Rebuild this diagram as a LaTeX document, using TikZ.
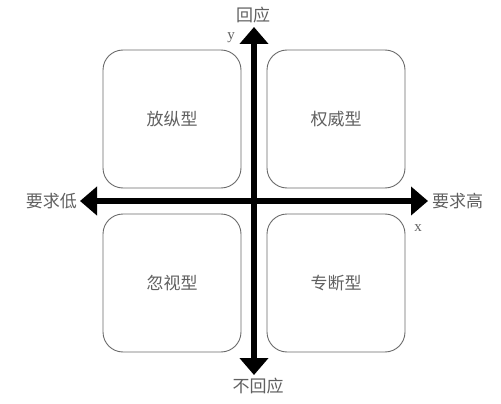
\documentclass[tikz,border=0pt]{standalone}
\usepackage{fontspec}
\newfontfamily\cjk{Noto Sans CJK SC}
\setmainfont{Liberation Serif}
\usetikzlibrary{arrows.meta}
\definecolor{txt}{HTML}{606060}
\definecolor{boxc}{HTML}{6a6a6a}
\begin{document}
\begin{tikzpicture}[x=1pt,y=-1pt,
  quad/.style={draw=boxc,line width=0.9pt,rounded corners=20pt,minimum width=138pt,minimum height=138pt,inner sep=0pt,font=\cjk\fontsize{17}{17}\selectfont,text=txt},
  lbl/.style={font=\cjk\fontsize{17}{17}\selectfont,text=txt,inner sep=1pt},
  axl/.style={font=\fontsize{15}{15}\selectfont,text=txt,inner sep=1pt},
  axis/.style={line width=5.5pt,black,-{Triangle[width=28pt,length=17pt]}}]
\useasboundingbox (0,0) rectangle (501,404);
\node[quad] (q1) at (172,119) {放纵型};
\node[quad] (q2) at (336,119) {权威型};
\node[quad] (q3) at (172,283) {忽视型};
\node[quad] (q4) at (336,283) {专断型};
\coordinate (c) at (254,201);
\coordinate (top) at (254,27);
\coordinate (bot) at (254,375);
\coordinate (lft) at (80,201);
\coordinate (rgt) at (428,201);
\draw[axis] (c) -- (top);
\draw[axis] (c) -- (bot);
\draw[axis] (c) -- (lft);
\draw[axis] (c) -- (rgt);
\node[lbl] (up) at (253,15) {回应};
\node[lbl] (down) at (258,386) {不回应};
\node[lbl,anchor=east] (low) at (78,201) {要求低};
\node[lbl,anchor=west] (high) at (431,201) {要求高};
\node[axl] (ylab) at (231,38) {y};
\node[axl] (xlab) at (418,228) {x};
\end{tikzpicture}
\end{document}
